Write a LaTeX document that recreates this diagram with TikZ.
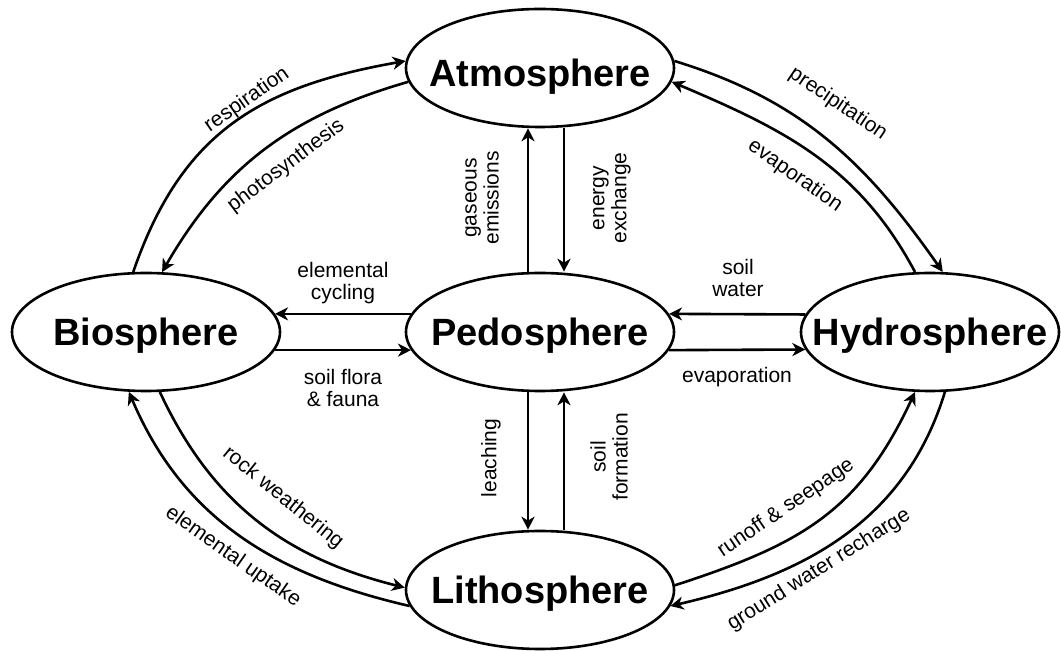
\documentclass[tikz,border=0pt]{standalone}
\usepackage{fontspec}
\setmainfont{Liberation Sans}
\usetikzlibrary{shapes.geometric,arrows.meta}

\newcommand{\sph}[2][0pt]{\makebox[0pt]{\raisebox{\dimexpr-6.9pt-#1\relax}[0pt][0pt]{#2}}}

\begin{document}
\begin{tikzpicture}[x=0.5pt,y=-0.5pt,
  sphere/.style={ellipse,draw,line width=1.3pt,inner sep=0pt,minimum width=134pt,minimum height=59pt,font=\fontsize{19}{20}\selectfont\bfseries},
  flow/.style={line width=1.3pt,-{Stealth[length=6.5pt,width=6.5pt,inset=2pt]}},
  lbl/.style={font=\fontsize{10.5}{11}\selectfont,align=center,inner sep=0pt}]

\useasboundingbox (0,0) rectangle (1061,651);

\node[sphere] (atmo) at (540,68) {\sph[2.2pt]{Atmosphere}};
\node[sphere] (bio) at (146,332) {\sph{Biosphere}};
\node[sphere] (pedo) at (540,332) {\sph{Pedosphere}};
\node[sphere,minimum width=129pt] (hydro) at (930,332) {\sph{Hydrosphere}};
\node[sphere] (litho) at (540,590) {\sph{Lithosphere}};

\draw[flow] (pedo.172) -- (bio.8);
\draw[flow] (bio.352) -- (pedo.188);
\draw[flow] (hydro.172) -- (pedo.8);
\draw[flow] (pedo.352) -- (hydro.188);

\draw[flow] ([xshift=-6pt]pedo.north) -- ([xshift=-6pt]atmo.south);
\draw[flow] ([xshift=12pt]atmo.south) -- ([xshift=12pt]pedo.north);
\draw[flow] ([xshift=-6pt]pedo.south) -- ([xshift=-6pt]litho.north);
\draw[flow] ([xshift=12pt]litho.north) -- ([xshift=12pt]pedo.south);

\draw[flow] (bio.102) to[out=71,in=190,looseness=1.1] (atmo.177);
\draw[flow] (atmo.186) to[out=196,in=60] (bio.75);
\draw[flow] (atmo.3) to[out=-17,in=125] (hydro.78);
\draw[flow] (hydro.104) to[out=118,in=-23] (atmo.354);
\draw[flow] (bio.283) to[out=-65,in=166] (litho.179);
\draw[flow] (litho.187) to[out=167,in=-67] (bio.254);
\draw[flow] (litho.2) to[out=18,in=245,looseness=1.1] (hydro.256);
\draw[flow] (hydro.284) to[out=253,in=13] (litho.353);

\node[lbl,rotate=35] (resp) at (247,100) {respiration};
\node[lbl,rotate=37] (photo) at (286,166) {photosynthesis};
\node[lbl,rotate=-34] (precip) at (838,104) {precipitation};
\node[lbl,rotate=-35] (evapa) at (795,176) {evaporation};
\node[lbl,rotate=-39] (rock) at (283,498) {rock weathering};
\node[lbl,rotate=-35] (uptake) at (233,557) {elemental uptake};
\node[lbl,rotate=34] (runoff) at (786,508) {runoff \& seepage};
\node[lbl,rotate=32] (recharge) at (819,570) {ground water recharge};

\node[lbl] (cycl) at (343,283) {elemental\\cycling};
\node[lbl] (flora) at (343,388) {soil flora\\\& fauna};
\node[lbl] (swater) at (738,278) {soil\\water};
\node[lbl] (evapb) at (737,377) {evaporation};
\node[lbl,rotate=90] (gas) at (482,198) {gaseous\\emissions};
\node[lbl,rotate=90] (energy) at (612,198) {energy\\exchange};
\node[lbl,rotate=90] (leach) at (491,458) {leaching};
\node[lbl,rotate=90] (soilf) at (609,457) {soil\\formation};

\end{tikzpicture}
\end{document}
